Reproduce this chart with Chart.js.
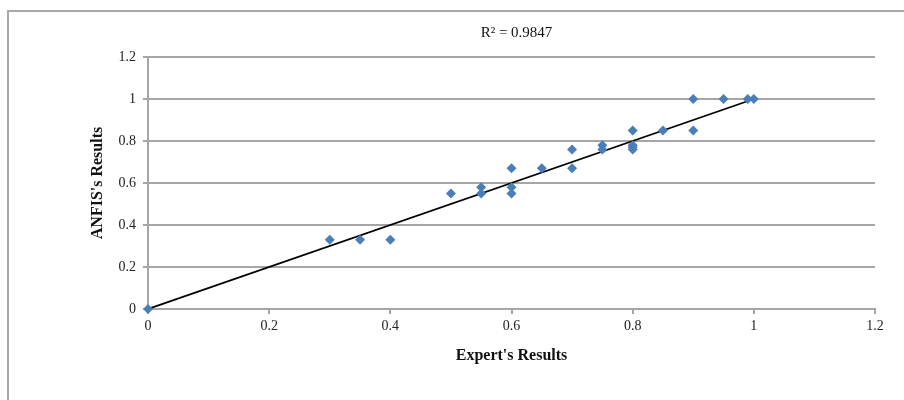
<!DOCTYPE html>
<html>
<head>
<meta charset="utf-8">
<script src="https://cdn.jsdelivr.net/npm/chart.js@4"></script>
<style>
    html, body { margin: 0; padding: 0; background: #fff; }
    #wrap { position: relative; width: 904px; height: 400px; }
    #frame {
        position: absolute; left: 7px; top: 10px; right: 0; bottom: 0;
        border-left: 2px solid #a8a8a8; border-top: 2px solid #a8a8a8;
    }
    canvas { position: absolute; left: 0; top: 0; }
</style>
</head>
<body>
<div id="wrap">
    <div id="frame"></div>
    <canvas id="chart" width="904" height="400"></canvas>
</div>
<script>
const expertResults = [0, 0.3, 0.35, 0.4, 0.5, 0.55, 0.55, 0.6, 0.6, 0.6, 0.65, 0.7, 0.7, 0.75, 0.75, 0.8, 0.8, 0.8, 0.8, 0.85, 0.9, 0.9, 0.95, 0.99, 1];
const anfisResults = [0, 0.33, 0.33, 0.33, 0.55, 0.58, 0.55, 0.67, 0.58, 0.55, 0.67, 0.76, 0.67, 0.78, 0.76, 0.85, 0.78, 0.77, 0.76, 0.85, 1, 0.85, 1, 1, 1];
const trendX = [0, 1];
const trendY = [0, 1];
const tickValues = [0, 0.2, 0.4, 0.6, 0.8, 1, 1.2];
const r2Label = "R² = 0.9847";

const axisGray = "#a6a6a6";
const textFont = "'Liberation Serif', 'Times New Roman', serif";

const points = expertResults.map((x, i) => ({ x, y: anfisResults[i] }));
const trend = trendX.map((x, i) => ({ x, y: trendY[i] }));

function tickLabel(value) {
    return String(Math.round(value * 10) / 10);
}

const r2Plugin = {
    id: "r2Label",
    afterDraw(chart) {
        const { ctx, chartArea } = chart;
        ctx.save();
        ctx.font = `15px ${textFont}`;
        ctx.fillStyle = "#111";
        ctx.textAlign = "center";
        ctx.textBaseline = "middle";
        ctx.fillText(r2Label, (chartArea.left + chartArea.right) / 2 + 5, 33);
        ctx.restore();
    },
};

new Chart(document.getElementById("chart"), {
    type: "scatter",
    data: {
        datasets: [
            {
                label: "trend",
                type: "line",
                data: trend,
                borderColor: "#000",
                borderWidth: 1.8,
                pointRadius: 0,
                fill: false,
                order: 2,
            },
            {
                label: "ANFIS",
                data: points,
                clip: false,
                pointStyle: "rectRot",
                pointRadius: 5,
                backgroundColor: "#4a7ebb",
                borderColor: "#4a7ebb",
                borderWidth: 0,
                order: 1,
            },
        ],
    },
    options: {
        responsive: false,
        animation: false,
        layout: { padding: { left: 88, right: 29, top: 57, bottom: 35 } },
        plugins: {
            legend: { display: false },
            tooltip: { enabled: false },
        },
        scales: {
            x: {
                type: "linear",
                min: 0,
                max: 1.2,
                afterFit(scale) { scale.height = 56; },
                afterBuildTicks(scale) { scale.ticks = tickValues.map((value) => ({ value })); },
                ticks: {
                    callback: tickLabel,
                    maxRotation: 0,
                    padding: 4,
                    color: "#222",
                    font: { family: textFont, size: 14 },
                },
                grid: {
                    drawOnChartArea: false,
                    drawTicks: true,
                    tickLength: 5,
                    color: axisGray,
                    lineWidth: 2,
                },
                border: { display: true, color: axisGray, width: 2 },
                title: {
                    display: true,
                    text: "Expert's Results",
                    color: "#111",
                    padding: 0,
                    font: { family: textFont, size: 16, weight: "bold" },
                },
            },
            y: {
                type: "linear",
                min: 0,
                max: 1.2,
                afterFit(scale) { scale.width = 60; },
                afterBuildTicks(scale) { scale.ticks = tickValues.map((value) => ({ value })); },
                ticks: {
                    callback: tickLabel,
                    padding: 7,
                    color: "#222",
                    font: { family: textFont, size: 14 },
                },
                grid: {
                    drawTicks: true,
                    tickLength: 5,
                    color: axisGray,
                    lineWidth: 2,
                },
                border: { display: true, color: axisGray, width: 2 },
                title: {
                    display: true,
                    text: "ANFIS's Results",
                    color: "#111",
                    padding: 0,
                    font: { family: textFont, size: 16, weight: "bold" },
                },
            },
        },
    },
    plugins: [r2Plugin],
});
</script>
</body>
</html>
